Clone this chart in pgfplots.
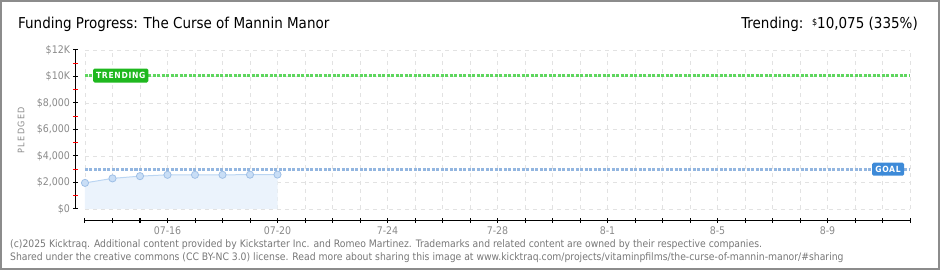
\documentclass[border=0pt]{standalone}
\usepackage{pgfplots}
\pgfplotsset{compat=1.18}
\usepackage{fontspec}
\setmainfont{DejaVu Sans Condensed}
\definecolor{bordergray}{HTML}{8C8C8C}
\definecolor{ticklab}{HTML}{8A8A8A}
\definecolor{gridgray}{HTML}{E2E2E2}
\definecolor{trendline}{HTML}{5ED65E}
\definecolor{trendbox}{HTML}{1FB81F}
\definecolor{goalline}{HTML}{93B6E0}
\definecolor{goalbox}{HTML}{3D8AD8}
\definecolor{areablue}{HTML}{EBF3FC}
\definecolor{lineblue}{HTML}{BBD5F2}
\definecolor{markfill}{HTML}{C9DEF6}
\definecolor{markdraw}{HTML}{9EBFE6}
\definecolor{footgray}{HTML}{777777}
\begin{document}
\begin{tikzpicture}[x=1pt,y=1pt]
\path[use as bounding box] (0,0) rectangle (940,270);
\draw[draw=bordergray, line width=2pt] (1,1) rectangle (939,269);
\node[anchor=base west, inner sep=0pt, font=\fontsize{15}{15}\selectfont] at (18,241) {Funding Progress: The Curse of Mannin Manor};
\node[anchor=base east, inner sep=0pt, font=\fontsize{15}{15}\selectfont] at (918,241) {Trending:\ \ \raisebox{3.5pt}{\fontsize{9}{9}\selectfont\$}10,075 (335\%)};
\node[anchor=base west, inner sep=0pt, text=footgray, font=\fontsize{10.3}{10.3}\selectfont] at (10,22.5) {(c)2025 Kicktraq. Additional content provided by Kickstarter Inc. and Romeo Martinez. Trademarks and related content are owned by their respective companies.};
\node[anchor=base west, inner sep=0pt, text=footgray, font=\fontsize{10.3}{10.3}\selectfont] at (10,9.5) {Shared under the creative commons (CC BY-NC 3.0) license. Read more about sharing this image at www.kicktraq.com/projects/vitaminpfilms/the-curse-of-mannin-manor/\#sharing};
\node[rotate=90, text=ticklab, font=\fontsize{9}{9}\selectfont\addfontfeatures{LetterSpace=15}] at (21,140) {PLEDGED};
\begin{axis}[
  at={(85pt,61pt)}, anchor=south west, scale only axis,
  width=825pt, height=159pt,
  xmin=0, xmax=30, ymin=0, ymax=12000,
  scaled y ticks=false,
  axis x line*=bottom, axis y line*=left,
  axis x line shift=11.5pt, axis y line shift=9pt,
  axis line style={black, line width=1pt},
  xtick={0,...,30},
  xticklabels={,,,07-16,,,,07-20,,,,7-24,,,,7-28,,,,8-1,,,,8-5,,,,8-9,,,},
  ytick={0,2000,4000,6000,8000,10000,12000},
  yticklabels={\$0,{\$2,000},{\$4,000},{\$6,000},{\$8,000},\$10K,\$12K},
  extra y ticks={1000,3000,5000,7000,9000,11000},
  extra y tick labels={},
  extra y tick style={grid=none, major tick style={red, line width=1.4pt}},
  major tick style={black, line width=1pt},
  tick align=center, major tick length=5pt,
  ticklabel style={text=ticklab, font=\fontsize{10.5}{10.5}\selectfont},
  grid=major,
  major grid style={gridgray, dash pattern=on 4pt off 4pt, line width=0.8pt},
  clip=false,
]
\addplot[fill=areablue, draw=none] coordinates {(0,1970) (1,2310) (2,2480) (3,2580) (4,2580) (5,2580) (6,2590) (7,2600)} \closedcycle;
\addplot[trendline, line width=3pt, dash pattern=on 3pt off 1.5pt] coordinates {(0,10075) (30,10075)};
\addplot[goalline, line width=3pt, dash pattern=on 3pt off 1.5pt] coordinates {(0,3000) (30,3000)};
\addplot[lineblue, line width=1pt, mark=*, mark size=3.6pt, mark options={fill=markfill, draw=markdraw, line width=0.8pt}] coordinates {(0,1970) (1,2310) (2,2480) (3,2580) (4,2580) (5,2580) (6,2590) (7,2600)};
\node[fill=trendbox, text=white, rounded corners=1.5pt, inner xsep=3pt, inner ysep=2pt, minimum width=55pt, minimum height=14pt, font=\bfseries\fontsize{8.5}{8.5}\selectfont\addfontfeatures{LetterSpace=8}] at (axis cs:1.3,10075) {TRENDING};
\node[fill=goalbox, text=white, rounded corners=1.5pt, inner xsep=3pt, inner ysep=2pt, minimum width=32pt, minimum height=13pt, font=\bfseries\fontsize{8.5}{8.5}\selectfont\addfontfeatures{LetterSpace=8}] at (axis cs:29.2,3000) {GOAL};
\end{axis}
\end{tikzpicture}
\end{document}
